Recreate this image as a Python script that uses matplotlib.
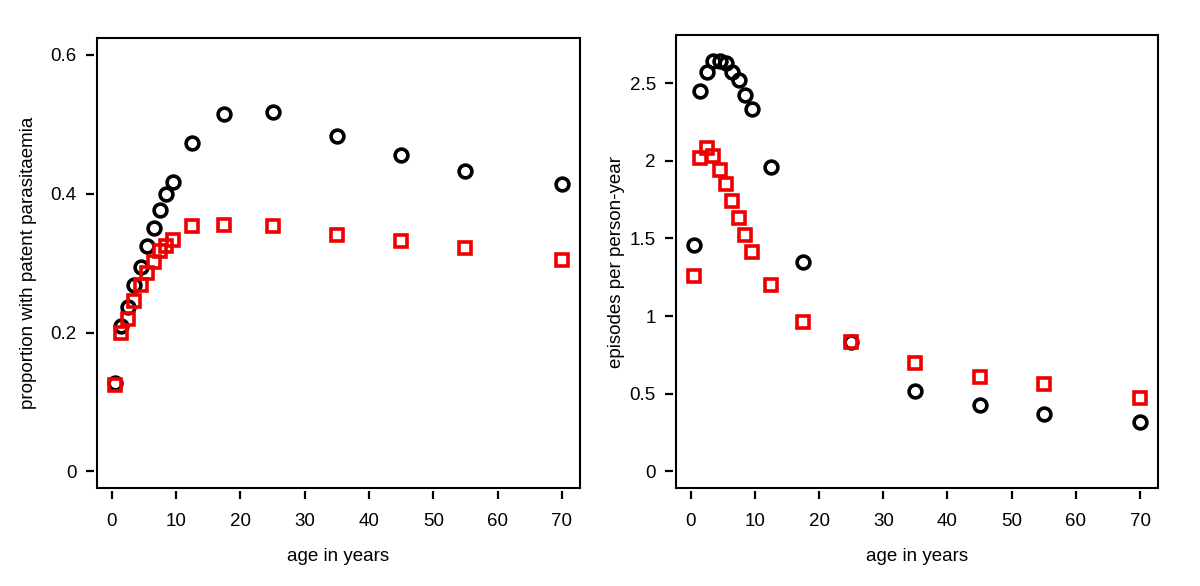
import numpy as np
import matplotlib
matplotlib.use('Agg')
import matplotlib.pyplot as plt
from matplotlib.patches import Rectangle

plt.rcParams['font.family'] = ['Liberation Sans', 'DejaVu Sans']

# age groups (midpoints, years)
age = [0.5, 1.5, 2.5, 3.5, 4.5, 5.5, 6.5, 7.5, 8.5, 9.5, 12.5, 17.5, 25, 35, 45, 55, 70]

# proportion with patent parasitaemia
prev_black = [0.128, 0.21, 0.237, 0.268, 0.294, 0.324, 0.35, 0.376, 0.40, 0.417,
              0.473, 0.515, 0.517, 0.483, 0.456, 0.432, 0.414]
prev_red = [0.124, 0.199, 0.219, 0.246, 0.268, 0.286, 0.302, 0.318, 0.325, 0.334,
            0.354, 0.355, 0.354, 0.341, 0.332, 0.322, 0.305]

# episodes per person-year
inc_black = [1.46, 2.45, 2.57, 2.64, 2.64, 2.63, 2.57, 2.52, 2.42, 2.33,
             1.96, 1.35, 0.83, 0.52, 0.43, 0.37, 0.32]
inc_red = [1.26, 2.02, 2.08, 2.03, 1.94, 1.85, 1.74, 1.63, 1.52, 1.41,
           1.20, 0.96, 0.83, 0.70, 0.61, 0.56, 0.47]

xticks = [0, 10, 20, 30, 40, 50, 60, 70]
FS = 13.5


def r_style(ax, ylim, yticks, yticklabels, ylabel, ylabelpad):
    ax.set_xlim(-2.3, 72.8)
    ax.set_ylim(*ylim)
    ax.set_xticks(xticks)
    ax.set_yticks(yticks)
    ax.set_yticklabels(yticklabels)
    for side in ['top', 'right']:
        ax.spines[side].set_visible(False)
    for side in ['left', 'bottom']:
        ax.spines[side].set_position(('outward', 2))
        ax.spines[side].set_color('none')
    ax.tick_params(direction='out', length=5.5, width=1.6, labelsize=FS)
    ax.tick_params(axis='x', pad=10.5)
    ax.tick_params(axis='y', pad=7)
    ax.add_patch(Rectangle((0, 0), 1, 1, transform=ax.transAxes, fill=False,
                           lw=1.5, ec='black', clip_on=False, zorder=5))
    ax.set_xlabel('age in years', fontsize=FS, labelpad=13)
    ax.set_ylabel(ylabel, fontsize=FS, labelpad=ylabelpad)


fig = plt.figure(figsize=(12, 5.86), dpi=100)
ax1 = fig.add_axes([0.0808, 0.167, 0.4025, 0.768])
ax2 = fig.add_axes([0.5633, 0.167, 0.4017, 0.773])

mk = dict(ls='none', mfc='none', mew=2.6, clip_on=False)

ax1.plot(age, prev_black, marker='o', ms=9.2, mec='black', **mk)
ax1.plot(age, prev_red, marker='s', ms=9, mec='#ee0000', **mk)
r_style(ax1, (-0.024, 0.624), [0, 0.2, 0.4, 0.6], ['0', '0.2', '0.4', '0.6'],
        'proportion with patent parasitaemia', 10)

ax2.plot(age, inc_black, marker='o', ms=9.2, mec='black', **mk)
ax2.plot(age, inc_red, marker='s', ms=9, mec='#ee0000', **mk)
r_style(ax2, (-0.108, 2.808), [0, 0.5, 1, 1.5, 2, 2.5], ['0', '0.5', '1', '1.5', '2', '2.5'],
        'episodes per person-year', 3.5)

fig.savefig('out.png', dpi=100)
